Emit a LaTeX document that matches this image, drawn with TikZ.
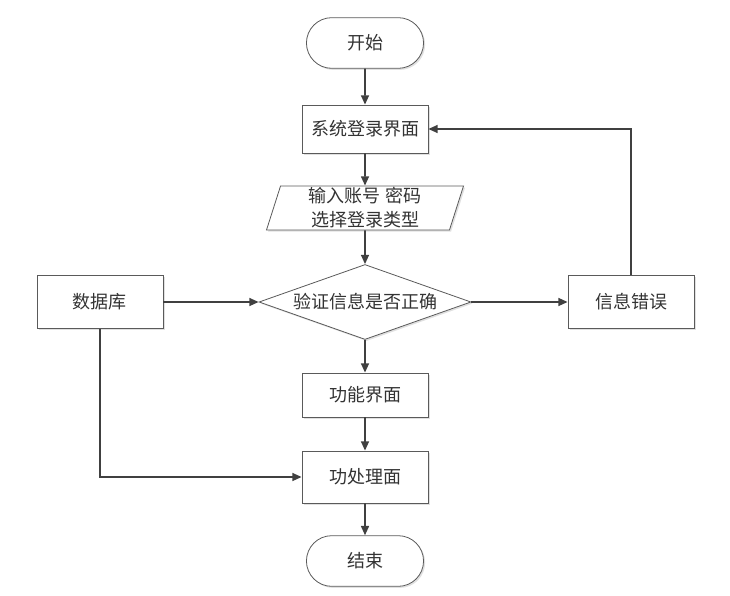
\documentclass[tikz,border=0pt]{standalone}
\usepackage{fontspec}
\setmainfont{Noto Sans CJK SC}
\usetikzlibrary{positioning, arrows.meta, shapes.geometric, shapes.misc, shadows}
\definecolor{linegray}{HTML}{404040}
\definecolor{bordergray}{HTML}{5A5A5A}
\tikzset{
  flow/.style={
	-{Triangle[length=7pt,width=6pt]}, % filled arrow heads
	draw=linegray, line width=1.2pt, % dark connectors
	node distance=64pt, % vertical spacing between the steps
	every node/.style={font=\fontsize{13.5}{18}\selectfont, text=black!80}, % text of every box
  },
  boxshadow/.style={drop shadow={shadow xshift=1.2pt, shadow yshift=-1.2pt, fill=black!12, opacity=1}},
  terminal/.style={rounded rectangle, draw=bordergray, line width=0.6pt, fill=white, boxshadow, minimum width=94.5pt, minimum height=38pt},
  process/.style={rectangle, draw=bordergray, line width=0.6pt, fill=white, boxshadow, minimum width=94.5pt, minimum height=37pt},
  io/.style={trapezium, trapezium left angle=71, trapezium right angle=109, trapezium stretches body, draw=bordergray, line width=0.6pt, fill=white, boxshadow, minimum width=147.75pt, minimum height=33pt, inner sep=0pt, align=center},
  decision/.style={diamond, aspect=2.83, draw=bordergray, line width=0.6pt, fill=white, boxshadow, minimum width=159pt, minimum height=56.25pt, inner sep=0pt},
}

\begin{document}
\begin{tikzpicture}[flow]
	  \node[terminal] (start) at (0,0) {开始};
	  \node[process, below of=start, node distance=64.5pt, minimum height=36pt] (login) {系统登录界面};
	  \node[io, below of=login, node distance=59.25pt] (input) {输入账号 密码\\选择登录类型};
	  \node[decision, below of=input, node distance=70.5pt] (check) {验证信息是否正确};
	  \node[process, left of=check, node distance=198.75pt, minimum height=40pt] (db) {数据库};
	  \node[process, right of=check, node distance=199.5pt, minimum height=40pt] (err) {信息错误};
	  \node[process, below of=check, node distance=69.75pt, minimum height=33pt] (func) {功能界面};
	  \node[process, below of=func, node distance=61.5pt, minimum height=39pt] (proc) {功处理面};
	  \node[terminal, below of=proc, node distance=63pt] (stop) {结束};
	  \useasboundingbox (-273.75pt,32.25pt) rectangle (273.75pt,-414pt);
	  \draw   (start) edge (login)
		  (login) edge (input)
		  (input) edge (check)
		  (check) edge (func)
		  (func) edge (proc)
		  (proc) edge (stop)
		  (db) edge (check)
		  (check) edge (err)
	  ;
	  \draw (err) |- (login);
	  \draw (db) |- (proc);
\end{tikzpicture}
\end{document}
